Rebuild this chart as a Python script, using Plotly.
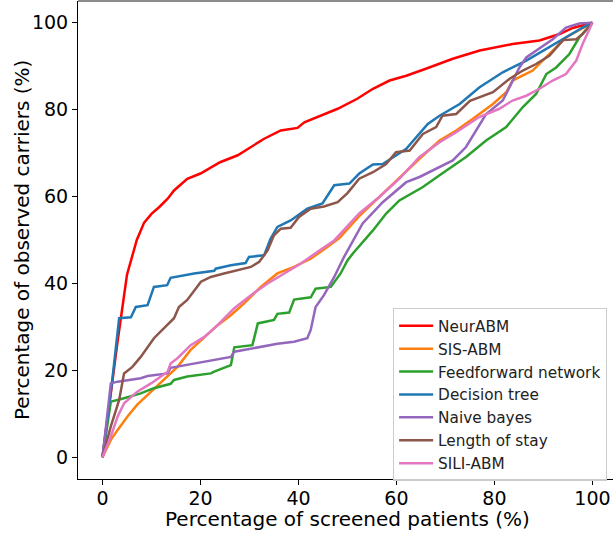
import plotly.graph_objects as go

# ---- data ----
neur_x = [0, 1, 2, 3, 4, 5, 6, 7, 8.5, 10, 11.6, 13.3, 14.6, 17.3, 20, 21.8, 24, 27.6, 30.3, 33, 36.4, 39.8, 41.2, 45.2, 48, 52, 55.2, 58.6, 62, 66, 71.5, 77, 83.7, 89.2, 93.3, 96, 99.4, 100]
neur_y = [0, 9, 18, 26, 34, 42, 46, 50, 54, 56, 57.6, 59.5, 61.4, 64.1, 65.3, 66.4, 67.9, 69.5, 71.4, 73.3, 75.2, 75.8, 77.1, 79, 80.2, 82.5, 84.8, 86.7, 87.8, 89.4, 91.7, 93.6, 95.1, 95.9, 97.4, 98.8, 99.8, 100]

sis_x = [0, 1.7, 3.1, 5.1, 7.1, 9.9, 12.6, 15.3, 18, 20.8, 23.5, 26.2, 28.9, 32.3, 35.7, 39.1, 42.5, 45.9, 48.4, 52.4, 56.5, 60.6, 64.7, 68.8, 72.2, 75.6, 79.7, 82.4, 83.7, 87.8, 91.2, 94.6, 100]
sis_y = [0, 4, 6.3, 9.4, 12.1, 15.1, 17.8, 20.8, 24.7, 27.7, 30.4, 32.7, 35.4, 39.2, 42.3, 43.8, 45.7, 48.4, 50.5, 55.5, 59.9, 64.5, 68.7, 72.9, 75.2, 77.9, 81.3, 84, 86.7, 89, 92.8, 96.6, 100]

ff_x = [0, 1.7, 4.4, 5.8, 7.8, 10.5, 13.9, 14.6, 17.3, 22.1, 22.8, 26.2, 26.9, 30.6, 31.7, 35, 35.7, 38.1, 39.1, 42.5, 43.5, 46.6, 48.6, 50, 51.1, 55.2, 57.9, 60.6, 65.4, 68.8, 74.2, 78.3, 82.4, 85.8, 88.5, 90.6, 92.6, 95.3, 97.3, 100]
ff_y = [0, 12.8, 13.6, 14, 14.7, 15.9, 16.9, 17.8, 18.6, 19.3, 19.7, 21.2, 25.3, 25.8, 30.8, 31.6, 33, 33.3, 36.3, 36.8, 38.8, 39.2, 42.3, 45.3, 46.9, 52.2, 56.1, 59.1, 62.2, 64.9, 69.1, 72.9, 76, 80.6, 83.6, 88.2, 89.7, 92.8, 96.6, 100]

dt_x = [0, 2.0, 3.4, 5.8, 6.8, 9.2, 10.5, 13.2, 13.9, 18.7, 22.8, 23.1, 26.2, 29.2, 29.9, 33, 34.3, 35.7, 38.4, 41.8, 44.9, 47.3, 50.4, 52.4, 55.2, 57.2, 62, 64.7, 66.4, 68.8, 72.9, 76.9, 81.7, 86.5, 90.6, 94.6, 98, 100]
dt_y = [0, 17.8, 32, 32.2, 34.6, 35, 39.2, 39.6, 41.3, 42.3, 42.9, 43.4, 44.2, 44.7, 46.1, 46.5, 50.3, 53, 54.5, 57.2, 58.4, 62.6, 63, 65.3, 67.4, 67.5, 71, 74.4, 76.7, 78.6, 81.3, 85.1, 88.6, 91.3, 94, 96.6, 98.9, 100]

nb_x = [0, 1.7, 3.1, 7.8, 9.2, 13.3, 13.9, 18.7, 22.8, 26.2, 26.9, 32.3, 35.7, 39.1, 41.8, 42.5, 43.5, 45.2, 47.3, 49.3, 50.4, 53.1, 57.2, 62, 64.7, 68.1, 71.5, 74.2, 76.3, 78.3, 81.7, 83.7, 85.1, 86.5, 89.2, 91.9, 94.6, 97.3, 100]
nb_y = [0, 17, 17.4, 18.2, 18.7, 19.3, 20.6, 21.6, 22.4, 23.1, 24.3, 25.4, 26.1, 26.6, 27.4, 29.3, 34.6, 37.3, 41.5, 46.1, 48.4, 53.8, 58.7, 63.3, 64.5, 66.4, 68.3, 71.4, 75.2, 79, 82.1, 86.7, 89.7, 92, 94, 96.2, 98.9, 99.8, 100]

los_x = [0, 1.7, 3.4, 4.4, 6.1, 7.8, 10.5, 12.6, 14.6, 15.6, 17.3, 20.1, 22.1, 24.8, 27.6, 30.3, 32, 33.7, 35, 36.4, 38.4, 40.1, 42.5, 45.2, 48, 50, 52.4, 55.2, 57.9, 59.9, 62.7, 65.4, 68.1, 69.4, 72.2, 75, 79.7, 83.1, 85.8, 88.5, 91.2, 94, 96.7, 98, 100]
los_y = [0, 7.1, 13.2, 19.3, 20.8, 23.1, 27.4, 29.7, 32, 34.6, 36.2, 40.4, 41.5, 42.3, 43.1, 43.8, 45, 47.6, 51.1, 52.6, 52.8, 55.3, 57.2, 57.7, 58.7, 60.8, 64.1, 65.6, 67.5, 70.2, 70.6, 74.4, 76, 78.6, 79, 82, 84, 87.1, 89, 90.5, 92.4, 96, 96.2, 97.4, 100]

sili_x = [0, 1.7, 3.1, 4.4, 7.1, 9.9, 13.3, 13.9, 15.3, 18, 20.8, 23.5, 26.9, 30.3, 33.7, 37.1, 40.5, 43.9, 47.3, 52.4, 56.5, 60.6, 64.7, 68.8, 72.2, 76.9, 81, 83.7, 86.5, 89.2, 91.9, 94.6, 96.7, 98, 100]
sili_y = [0, 4.8, 9.4, 12.4, 15.1, 17, 19.7, 21.6, 22.8, 25.8, 27.7, 30.4, 34.3, 37.3, 40, 42.3, 44.6, 47.3, 49.9, 56.1, 59.9, 64.1, 69.1, 72.5, 74.8, 78.3, 80.2, 82.1, 83.2, 84.8, 86.7, 88.2, 91.3, 95.1, 100]

series = [
    ("NeurABM", neur_x, neur_y, "#ff0000"),
    ("SIS-ABM", sis_x, sis_y, "#ff7f0e"),
    ("Feedforward network", ff_x, ff_y, "#2ca02c"),
    ("Decision tree", dt_x, dt_y, "#1f77b4"),
    ("Naive bayes", nb_x, nb_y, "#9467bd"),
    ("Length of stay", los_x, los_y, "#8c564b"),
    ("SILI-ABM", sili_x, sili_y, "#e377c2"),
]

tick_vals = [0, 20, 40, 60, 80, 100]

fig = go.Figure()
for name, xs, ys, col in series:
    fig.add_trace(go.Scatter(x=xs, y=ys, mode="lines", name=name,
                             line=dict(color=col, width=2.5)))

font_family = "DejaVu Sans"
fig.update_layout(
    width=613, height=533,
    margin=dict(l=78, r=0, t=1, b=54, autoexpand=False),
    paper_bgcolor="white", plot_bgcolor="white",
    font=dict(family=font_family, size=19, color="black"),
    showlegend=True,
    legend=dict(x=0.589, y=0.357, xanchor="left", yanchor="top",
                bgcolor="rgba(255,255,255,0.8)", bordercolor="#cccccc", borderwidth=1,
                font=dict(family=font_family, size=15.3, color="#222"),
                itemwidth=34),
    xaxis=dict(range=[-5, 104.2], tickvals=tick_vals, showgrid=False, zeroline=False,
               automargin=False, ticklabeloverflow="allow", ticklabelstandoff=-3,
               showline=True, linecolor="black", linewidth=1, mirror=False,
               ticks="outside", ticklen=5, tickcolor="black",
               tickfont=dict(size=19)),
    yaxis=dict(range=[-5, 105], tickvals=tick_vals, showgrid=False, zeroline=False,
               automargin=False,
               showline=True, linecolor="black", linewidth=1, mirror=False,
               ticks="outside", ticklen=5, tickcolor="black",
               tickfont=dict(size=19)),
    shapes=[dict(type="line", xref="paper", yref="paper", x0=0, x1=1, y0=1, y1=1,
                 line=dict(color="#666666", width=1.5))],
    annotations=[
        dict(text="Percentage of observed carriers (%)", xref="paper", yref="paper",
             x=(22 - 78) / 535, y=0.5, xanchor="center", yanchor="middle",
             textangle=-90, showarrow=False,
             font=dict(family=font_family, size=20, color="black")),
        dict(text="Percentage of screened patients (%)", xref="paper", yref="paper",
             x=(348 - 78) / 535, y=(479 - 519) / 478, xanchor="center", yanchor="middle",
             showarrow=False,
             font=dict(family=font_family, size=20, color="black")),
    ],
)

fig.write_html("out.html", config={"displayModeBar": False},
               post_script="document.body.style.margin='0';document.body.style.overflow='hidden';")
